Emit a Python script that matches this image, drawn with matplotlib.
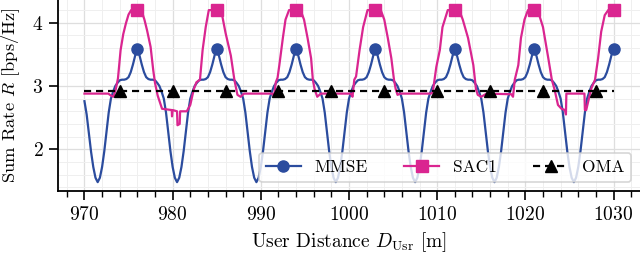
import numpy as np
import matplotlib
matplotlib.use("Agg")
import matplotlib.pyplot as plt
from matplotlib.ticker import MultipleLocator

# ---------------- data ----------------
# MMSE: sampled every 0.25 m from 970 to 1030
mmse_start, mmse_stop, mmse_step = 970.0, 1030.0, 0.25
mmse_rate = [
    2.76, 2.55, 2.25, 1.96, 1.72, 1.55,
    # 971.5 -> 980.25
    1.48, 1.55, 1.72, 1.97, 2.27, 2.58, 2.80, 2.91, 3.00, 3.05, 3.09, 3.10,
    3.10, 3.11, 3.14, 3.22, 3.34, 3.48, 3.58, 3.48, 3.34, 3.22, 3.14, 3.11,
    3.10, 3.10, 3.09, 3.05, 3.00, 2.91, 2.80, 2.58, 2.27, 1.97, 1.72, 1.55,
    # 980.5 -> 989.25
    1.48, 1.55, 1.72, 1.97, 2.27, 2.58, 2.80, 2.91, 3.00, 3.05, 3.09, 3.10,
    3.10, 3.11, 3.14, 3.22, 3.34, 3.48, 3.58, 3.48, 3.34, 3.22, 3.14, 3.11,
    3.10, 3.10, 3.09, 3.05, 3.00, 2.91, 2.80, 2.58, 2.27, 1.97, 1.72, 1.55,
    # 989.5 -> 998.25
    1.48, 1.55, 1.72, 1.97, 2.27, 2.58, 2.80, 2.91, 3.00, 3.05, 3.09, 3.10,
    3.10, 3.11, 3.14, 3.22, 3.34, 3.48, 3.58, 3.48, 3.34, 3.22, 3.14, 3.11,
    3.10, 3.10, 3.09, 3.05, 3.00, 2.91, 2.80, 2.58, 2.27, 1.97, 1.72, 1.55,
    # 998.5 -> 1007.25
    1.48, 1.55, 1.72, 1.97, 2.27, 2.58, 2.80, 2.91, 3.00, 3.05, 3.09, 3.10,
    3.10, 3.11, 3.14, 3.22, 3.34, 3.48, 3.58, 3.48, 3.34, 3.22, 3.14, 3.11,
    3.10, 3.10, 3.09, 3.05, 3.00, 2.91, 2.80, 2.58, 2.27, 1.97, 1.72, 1.55,
    # 1007.5 -> 1016.25
    1.48, 1.55, 1.72, 1.97, 2.27, 2.58, 2.80, 2.91, 3.00, 3.05, 3.09, 3.10,
    3.10, 3.11, 3.14, 3.22, 3.34, 3.48, 3.58, 3.48, 3.34, 3.22, 3.14, 3.11,
    3.10, 3.10, 3.09, 3.05, 3.00, 2.91, 2.80, 2.58, 2.27, 1.97, 1.72, 1.55,
    # 1016.5 -> 1025.25
    1.48, 1.55, 1.72, 1.97, 2.27, 2.58, 2.80, 2.91, 3.00, 3.05, 3.09, 3.10,
    3.10, 3.11, 3.14, 3.22, 3.34, 3.48, 3.58, 3.48, 3.34, 3.22, 3.14, 3.11,
    3.10, 3.10, 3.09, 3.05, 3.00, 2.91, 2.80, 2.58, 2.27, 1.97, 1.72, 1.55,
    # 1025.5 -> 1030
    1.48, 1.55, 1.72, 1.97, 2.27, 2.58, 2.80, 2.91, 3.00, 3.05, 3.09, 3.10,
    3.10, 3.11, 3.14, 3.22, 3.34, 3.48, 3.58,
]
mmse_dist = np.arange(len(mmse_rate)) * mmse_step + mmse_start

# SAC1: breakpoints
sac1_dist = [
    970.0, 972.7, 973.0, 973.3, 973.55, 973.8, 974.1, 974.4, 974.7, 975.0, 975.3,
    976.0, 976.5, 976.8, 977.1, 977.5, 977.8, 978.0, 978.3, 978.8, 979.9, 979.93,
    980.0, 980.5, 980.55, 980.8, 980.85, 981.6, 982.0, 982.4, 982.7, 983.1, 983.4,
    983.75, 984.1, 985.0, 985.5, 986.0, 986.6, 987.0, 987.35, 987.7, 988.1,
    991.3, 991.5, 991.7, 991.9, 992.1, 992.5, 992.8, 993.2, 994.0, 994.5, 994.9,
    995.3, 995.7, 995.9, 996.1, 996.25, 996.4, 996.8,
    1000.2, 1000.4, 1000.6, 1000.8, 1001.2, 1001.6, 1002.1, 1003.0, 1003.6, 1004.0,
    1004.4, 1004.8, 1005.1, 1005.3, 1005.5, 1005.8,
    1009.3, 1009.5, 1009.7, 1009.9, 1010.3, 1010.6, 1011.2, 1012.0, 1012.5, 1012.9,
    1013.5, 1014.1, 1014.4, 1014.6, 1015.0, 1015.6,
    1018.4, 1018.6, 1018.8, 1019.2, 1019.5, 1019.9, 1020.3, 1021.0, 1021.4, 1022.0,
    1022.6, 1023.0, 1023.3, 1023.7, 1024.1, 1024.5, 1024.6, 1024.65, 1026.7, 1026.75,
    1026.9, 1027.1, 1027.5, 1027.9, 1028.25, 1028.6, 1029.0, 1029.4, 1030.0,
]
sac1_rate = [
    2.88, 2.88, 2.85, 2.83, 2.95, 3.12, 3.57, 3.82, 3.99, 4.13, 4.20,
    4.20, 4.18, 4.05, 3.88, 3.62, 3.25, 3.05, 2.85, 2.64, 2.62, 2.52,
    2.62, 2.60, 2.38, 2.40, 2.60, 2.60, 2.70, 2.95, 3.06, 3.10, 3.57,
    3.93, 4.20, 4.20, 4.20, 3.84, 3.48, 3.10, 2.86, 2.83, 2.88,
    2.88, 2.84, 3.06, 3.13, 3.33, 3.76, 4.05, 4.20, 4.20, 4.20, 4.05,
    3.76, 3.44, 3.10, 2.95, 2.89, 2.83, 2.88,
    2.88, 2.83, 3.10, 3.15, 3.57, 3.93, 4.20, 4.20, 4.20, 4.05,
    3.76, 3.44, 3.10, 2.95, 2.86, 2.88,
    2.88, 2.90, 3.10, 3.30, 3.57, 3.93, 4.20, 4.20, 4.20, 4.05,
    3.76, 3.33, 2.95, 2.86, 2.83, 2.88,
    2.87, 2.83, 3.10, 3.33, 3.76, 4.05, 4.20, 4.20, 4.20, 3.93,
    3.44, 3.10, 2.95, 2.70, 2.64, 2.62, 2.55, 2.88, 2.88, 2.62,
    2.62, 2.74, 2.97, 3.10, 3.44, 3.86, 4.12, 4.20, 4.20,
]
sac1_marker_dist = [976.0, 985.0, 994.0, 1003.0, 1012.0, 1021.0, 1030.0]

# OMA: constant rate
oma_dist = [970, 974, 980, 986, 992, 998, 1004, 1010, 1016, 1022, 1028, 1030]
oma_rate = [2.92, 2.92, 2.92, 2.92, 2.92, 2.92, 2.92, 2.92, 2.92, 2.92, 2.92, 2.92]

x_ticks = [970, 980, 990, 1000, 1010, 1020, 1030]
y_ticks = [2, 3, 4]

# ---------------- style ----------------
plt.rcParams['font.family'] = ['cmr10', 'DejaVu Serif']
plt.rcParams['mathtext.fontset'] = 'cm'
plt.rcParams['axes.formatter.use_mathtext'] = True

c_mmse = '#2b4c9e'
c_sac1 = '#da2590'

fig = plt.figure(figsize=(6.4, 2.58), dpi=100)
ax = fig.add_axes([58 / 640, 67 / 258, 582 / 640, 191 / 258])

ax.plot(mmse_dist, mmse_rate, color=c_mmse, lw=1.6, marker='o', ms=8,
        markevery=(24, 36), label='MMSE', zorder=3)
sac1_idx = [sac1_dist.index(v) for v in sac1_marker_dist]
ax.plot(sac1_dist, sac1_rate, color=c_sac1, lw=1.6, marker='s', ms=8,
        markevery=sac1_idx, label='SAC1', zorder=4)
ax.plot(oma_dist, oma_rate, color='black', lw=1.6, ls=(0, (3.2, 2.2)),
        marker='^', ms=8, markevery=slice(1, -1), label='OMA', zorder=5)

ax.set_xlim(967.0, 1033.0)
ax.set_ylim(1.34, 4.36)
ax.set_xticks(x_ticks)
ax.set_yticks(y_ticks)
ax.xaxis.set_minor_locator(MultipleLocator(2))
ax.yaxis.set_minor_locator(MultipleLocator(0.2))

ax.grid(which='major', color='#dedede', lw=0.9)
ax.grid(which='minor', color='#efefef', lw=0.7)
ax.set_axisbelow(True)

for s in ['top', 'right']:
    ax.spines[s].set_visible(False)
for s in ['left', 'bottom']:
    ax.spines[s].set_linewidth(1.3)

ax.tick_params(axis='both', which='major', direction='out', length=6.5,
               width=1.2, labelsize=14, pad=4)
ax.tick_params(axis='x', which='minor', direction='out', length=4, width=1.0)
ax.tick_params(axis='y', which='minor', length=0)

ax.set_xlabel(r'User Distance $D_{\mathrm{Usr}}$ [m]', fontsize=14, labelpad=5)
ax.set_ylabel(r'Sum Rate $R$ [bps/Hz]', fontsize=13.3)
ax.yaxis.set_label_coords(-0.062, 0.5)

leg = ax.legend(loc='lower right', ncol=3, fontsize=12.5, frameon=True,
                framealpha=0.8, edgecolor='#cccccc', fancybox=True,
                handlelength=2.0, handletextpad=0.8, columnspacing=2.1,
                borderaxespad=0.0, bbox_to_anchor=(0.985, 0.047))
leg.get_frame().set_linewidth(1.2)

fig.savefig('out.png', dpi=100)
